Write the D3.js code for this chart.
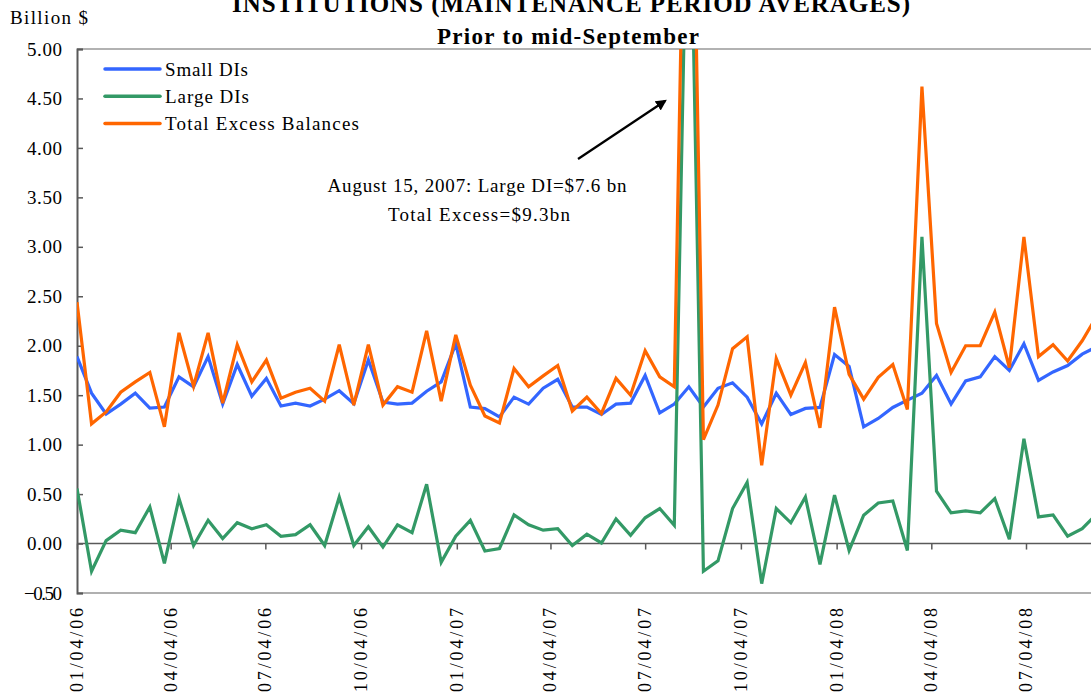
<!DOCTYPE html>
<html>
<head>
<meta charset="utf-8">
<script src="https://cdn.jsdelivr.net/npm/d3@7"></script>
<style>
  body { margin: 0; background: #ffffff; }
  text { font-family: "Liberation Serif", "Times New Roman", serif; fill: #000; }
</style>
</head>
<body>
<div id="container"></div>
<script>
let w = 1091;
let h = 698;

// maintenance periods (two weeks, ending Wednesdays)
let periods = [
  "2006-01-04","2006-01-18","2006-02-01","2006-02-15","2006-03-01","2006-03-15","2006-03-29",
  "2006-04-12","2006-04-26","2006-05-10","2006-05-24","2006-06-07","2006-06-21","2006-07-05",
  "2006-07-19","2006-08-02","2006-08-16","2006-08-30","2006-09-13","2006-09-27","2006-10-11",
  "2006-10-25","2006-11-08","2006-11-22","2006-12-06","2006-12-20",
  "2007-01-03","2007-01-17","2007-01-31","2007-02-14","2007-02-28","2007-03-14","2007-03-28",
  "2007-04-11","2007-04-25","2007-05-09","2007-05-23","2007-06-06","2007-06-20","2007-07-04",
  "2007-07-18","2007-08-01","2007-08-15","2007-08-29","2007-09-12","2007-09-26","2007-10-10",
  "2007-10-24","2007-11-07","2007-11-21","2007-12-05","2007-12-19",
  "2008-01-02","2008-01-16","2008-01-30","2008-02-13","2008-02-27","2008-03-12","2008-03-26",
  "2008-04-09","2008-04-23","2008-05-07","2008-05-21","2008-06-04","2008-06-18","2008-07-02",
  "2008-07-16","2008-07-30","2008-08-13","2008-08-27","2008-09-10"
];

let smallDIs = [
  1.89, 1.52, 1.31, 1.41, 1.52, 1.37, 1.38, 1.685, 1.585, 1.89, 1.41, 1.81, 1.49,
  1.67, 1.39, 1.42, 1.39, 1.46, 1.545, 1.415, 1.855, 1.43, 1.41, 1.42, 1.54, 1.635,
  2.02, 1.38, 1.365, 1.28, 1.48, 1.41, 1.57, 1.66, 1.38, 1.38, 1.305, 1.41, 1.42,
  1.70, 1.32, 1.41, 1.585, 1.38, 1.57, 1.625, 1.48, 1.21, 1.52, 1.305, 1.366, 1.376,
  1.91, 1.79, 1.18, 1.265, 1.376, 1.45, 1.52, 1.70, 1.41, 1.645, 1.685, 1.89, 1.75,
  2.02, 1.65, 1.735, 1.80, 1.915, 1.99
];

let largeDIs = [
  0.556, -0.28, 0.03, 0.135, 0.11, 0.37, -0.2, 0.455, -0.02, 0.235, 0.05, 0.21, 0.15,
  0.19, 0.074, 0.09, 0.19, -0.02, 0.47, -0.02, 0.17, -0.035, 0.19, 0.11, 0.60, -0.19,
  0.074, 0.235, -0.075, -0.05, 0.29, 0.19, 0.135, 0.15, -0.02, 0.094, 0.006, 0.25, 0.084,
  0.26, 0.354, 0.185, 7.6, -0.28, -0.175, 0.354, 0.617, -0.405, 0.354, 0.21, 0.47, -0.21,
  0.49, -0.07, 0.286, 0.41, 0.43, -0.07, 3.10, 0.53, 0.31, 0.33, 0.31, 0.455, 0.043,
  1.06, 0.27, 0.29, 0.074, 0.15, 0.30
];

let totalExcess = [
  2.44, 1.21, 1.33, 1.53, 1.635, 1.73, 1.18, 2.13, 1.59, 2.13, 1.42, 2.01, 1.635,
  1.855, 1.47, 1.53, 1.57, 1.44, 2.01, 1.40, 2.01, 1.40, 1.585, 1.53, 2.15, 1.44,
  2.11, 1.60, 1.29, 1.22, 1.77, 1.585, 1.695, 1.80, 1.34, 1.48, 1.315, 1.67, 1.50,
  1.95, 1.685, 1.585, 9.3, 1.05, 1.40, 1.97, 2.09, 0.79, 1.87, 1.50, 1.83, 1.17,
  2.39, 1.71, 1.46, 1.68, 1.81, 1.355, 4.62, 2.225, 1.73, 2.0, 2.0, 2.34, 1.78,
  3.10, 1.89, 2.01, 1.845, 2.05, 2.3
];

let seriesNames = ["Small DIs", "Large DIs", "Total Excess Balances"];
let seriesColors = ["#3366FF", "#339966", "#FF6600"];

let yTicks = [-0.5, 0, 0.5, 1, 1.5, 2, 2.5, 3, 3.5, 4, 4.5, 5];
let xTickDates = ["2006-01-04","2006-04-04","2006-07-04","2006-10-04","2007-01-04","2007-04-04",
                  "2007-07-04","2007-10-04","2008-01-04","2008-04-04","2008-07-04"];

let parseDate = d3.timeParse("%Y-%m-%d");
let fmtDate = d3.timeFormat("%m/%d/%y");

let plotLeft = 77, plotTop = 49, plotBottom = 593, plotRight = 1110;

let viz = d3.select("#container")
  .append("svg")
    .attr("width", w)
    .attr("height", h)
    .style("display", "block")
    .style("background-color", "#ffffff");

let x = d3.scaleTime()
  .domain([parseDate("2006-01-04"), parseDate("2008-07-04")])
  .range([plotLeft, 1026]);

let y = d3.scaleLinear()
  .domain([-0.5, 5])
  .range([plotBottom, plotTop]);

// titles (top one is cut off by the page edge, as in the original)
viz.append("text")
  .attr("x", 571)
  .attr("y", 12)
  .attr("text-anchor", "middle")
  .attr("style", "font-size:25px; font-weight:bold;")
  .attr("textLength", 678)
  .attr("lengthAdjust", "spacing")
  .text("INSTITUTIONS (MAINTENANCE PERIOD AVERAGES)");

viz.append("text")
  .attr("x", 568)
  .attr("y", 44)
  .attr("text-anchor", "middle")
  .attr("style", "font-size:23px; font-weight:bold;")
  .attr("textLength", 262)
  .attr("lengthAdjust", "spacing")
  .text("Prior to mid-September");

viz.append("text")
  .attr("x", 10)
  .attr("y", 24)
  .attr("style", "font-size:19px;")
  .attr("textLength", 78)
  .attr("lengthAdjust", "spacing")
  .text("Billion $");

// plot frame
viz.append("line")
  .attr("x1", plotLeft).attr("x2", plotRight)
  .attr("y1", plotTop).attr("y2", plotTop)
  .attr("stroke", "#999999").attr("stroke-width", 1.5);

viz.append("line")
  .attr("x1", plotLeft).attr("x2", plotRight)
  .attr("y1", plotBottom).attr("y2", plotBottom)
  .attr("stroke", "#b0b0b0").attr("stroke-width", 2);

// y axis
let yAxis = d3.axisLeft(y)
  .tickValues(yTicks)
  .tickSize(-6)
  .tickPadding(15)
  .tickFormat(d3.format(".2f"));

let gy = viz.append("g")
  .attr("transform", "translate(" + plotLeft + ",0)")
  .call(yAxis);
gy.select(".domain").attr("stroke", "#595959").attr("stroke-width", 2);
gy.selectAll(".tick line").attr("stroke", "#595959").attr("stroke-width", 1.5);
gy.selectAll(".tick text")
  .attr("style", "font-size:19px; font-family:'Liberation Serif', serif;")
  .attr("textLength", d => d < 0 ? 38 : 35)
  .attr("lengthAdjust", "spacing")
  .attr("fill", "#000");

// x axis sits on the zero line
let xAxis = d3.axisBottom(x)
  .tickValues(xTickDates.map(parseDate))
  .tickSize(6)
  .tickFormat("");

let gx = viz.append("g")
  .attr("transform", "translate(0," + y(0) + ")")
  .call(xAxis);
gx.select(".domain").attr("stroke", "#595959").attr("stroke-width", 1.5)
  .attr("d", "M" + plotLeft + ",0H" + plotRight);
gx.selectAll(".tick line").attr("stroke", "#595959").attr("stroke-width", 1.5);

// rotated date labels below the frame
viz.selectAll(".xlab")
  .data(xTickDates)
  .enter()
  .append("text")
    .attr("class", "xlab")
    .attr("transform", d => "translate(" + (x(parseDate(d)) + 6) + ",608) rotate(-90)")
    .attr("text-anchor", "end")
    .attr("style", "font-size:18px;")
    .attr("textLength", 84)
    .attr("lengthAdjust", "spacing")
    .text(d => fmtDate(parseDate(d)));

// lines
viz.append("clipPath")
  .attr("id", "plotclip")
  .append("rect")
    .attr("x", plotLeft)
    .attr("y", plotTop)
    .attr("width", plotRight - plotLeft)
    .attr("height", plotBottom - plotTop);

let allSeries = [smallDIs, largeDIs, totalExcess];

let line = d3.line()
  .x((d, i) => x(parseDate(periods[i])))
  .y(d => y(d));

viz.append("g")
  .attr("clip-path", "url(#plotclip)")
  .selectAll("path")
  .data(allSeries)
  .enter()
  .append("path")
    .attr("d", d => line(d))
    .attr("fill", "none")
    .attr("stroke", (d, i) => seriesColors[i])
    .attr("stroke-width", 3.2)
    .attr("stroke-linejoin", "miter");

// legend
let legendWidths = [83, 84, 194];
for (let i = 0; i < 3; i++) {
  viz.append("line")
    .attr("x1", 105).attr("x2", 160)
    .attr("y1", 69 + i * 27.2).attr("y2", 69 + i * 27.2)
    .attr("stroke", seriesColors[i])
    .attr("stroke-width", 3.5)
    .attr("stroke-linecap", "round");

  viz.append("text")
    .attr("x", 165)
    .attr("y", 75.5 + i * 27.2)
    .attr("style", "font-size:19px;")
    .attr("textLength", legendWidths[i])
    .attr("lengthAdjust", "spacing")
    .text(seriesNames[i]);
}

// annotation
viz.append("defs").append("marker")
  .attr("id", "arrow")
  .attr("viewBox", "0 0 10 10")
  .attr("refX", 8).attr("refY", 5)
  .attr("markerWidth", 5).attr("markerHeight", 5)
  .attr("orient", "auto")
  .append("path")
    .attr("d", "M0,0 L10,5 L0,10 Z")
    .attr("fill", "#000");

viz.append("line")
  .attr("x1", 578).attr("y1", 159)
  .attr("x2", 665).attr("y2", 101)
  .attr("stroke", "#000")
  .attr("stroke-width", 2.2)
  .attr("marker-end", "url(#arrow)");

viz.append("text")
  .attr("x", 477)
  .attr("y", 192)
  .attr("text-anchor", "middle")
  .attr("style", "font-size:19px;")
  .attr("textLength", 299)
  .attr("lengthAdjust", "spacing")
  .text("August 15, 2007: Large DI=$7.6 bn");

viz.append("text")
  .attr("x", 479)
  .attr("y", 221)
  .attr("text-anchor", "middle")
  .attr("style", "font-size:19px;")
  .attr("textLength", 182)
  .attr("lengthAdjust", "spacing")
  .text("Total Excess=$9.3bn");
</script>
</body>
</html>
